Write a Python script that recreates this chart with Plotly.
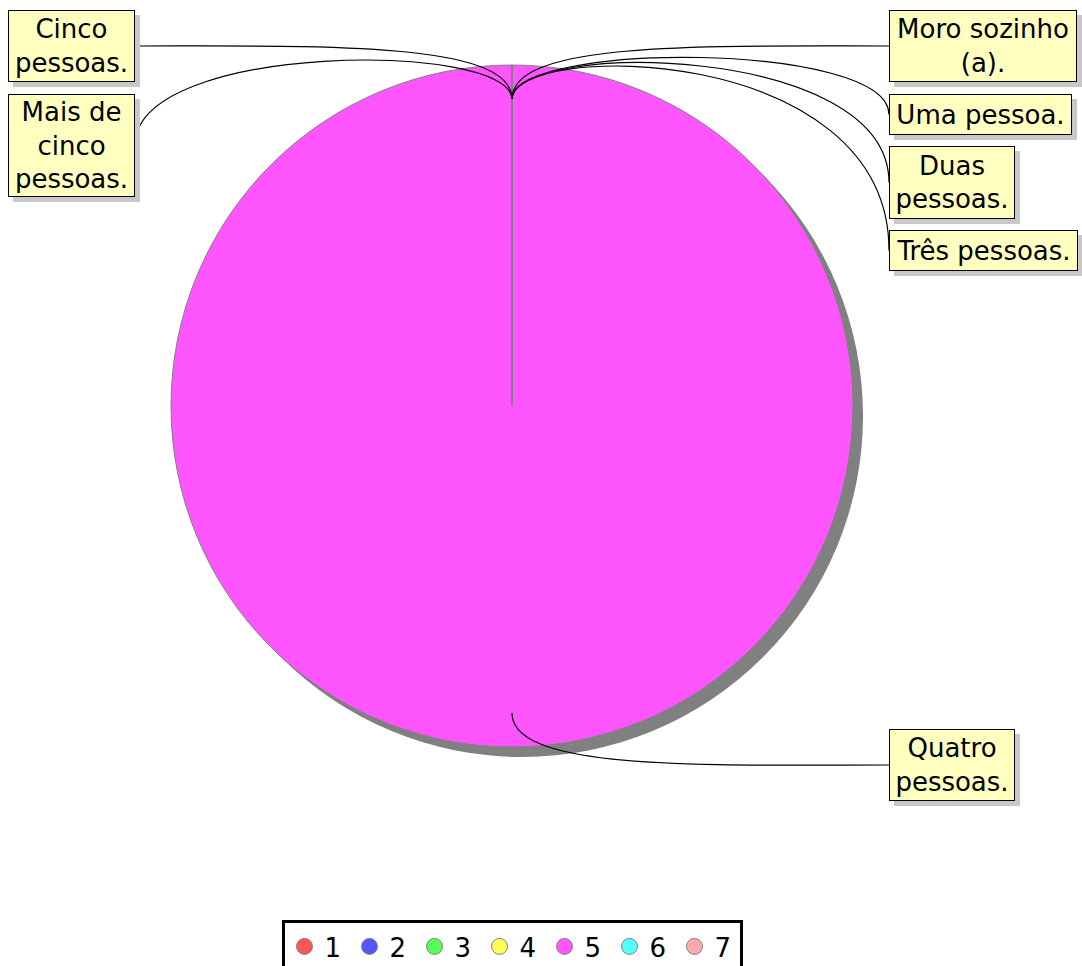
import math
import plotly.graph_objects as go

# ---------------- data ----------------
categorias = ["Moro sozinho (a).", "Uma pessoa.", "Duas pessoas.", "Três pessoas.",
              "Quatro pessoas.", "Cinco pessoas.", "Mais de cinco pessoas."]
rotulos = ["Moro sozinho<br>(a).", "Uma pessoa.", "Duas<br>pessoas.", "Três pessoas.",
           "Quatro<br>pessoas.", "Cinco<br>pessoas.", "Mais de<br>cinco<br>pessoas."]
legenda = ["1", "2", "3", "4", "5", "6", "7"]
valores = [0, 0, 0, 0, 1, 0, 0]
cores = ["#ff5555", "#5555ff", "#55ff55", "#ffff55", "#ff55ff", "#55ffff", "#ffaaaa"]

# ---------------- layout constants (pixels) ----------------
W, H = 1082, 966
CX, CY, R = 512, 406, 341
SHADOW = 10
BOX_SHADOW = 5
PAD, BW = 3, 1
FONT = "DejaVu Sans"
# label boxes: (left, top, width, height, side)
caixas = [(889, 10, 188, 72, "r"), (889, 94, 183, 41, "r"), (889, 146, 126, 73, "r"),
          (889, 230, 189, 41, "r"), (889, 729, 126, 72, "r"), (8, 10, 127, 72, "l"),
          (8, 94, 127, 103, "l")]


def dom_x(cx, r):
    return [(cx - r) / W, (cx + r) / W]


def dom_y(cy, r):
    return [1 - (cy + r) / H, 1 - (cy - r) / H]


fig = go.Figure()

# shadow pie
fig.add_trace(go.Pie(values=valores, labels=categorias, sort=False, direction="clockwise",
                     rotation=0, marker=dict(colors=["#808080"] * len(valores)),
                     textinfo="none", hoverinfo="skip", showlegend=False,
                     domain=dict(x=dom_x(CX + SHADOW, R), y=dom_y(CY + SHADOW, R))))
# main pie
fig.add_trace(go.Pie(values=valores, labels=categorias, sort=False, direction="clockwise",
                     rotation=0, marker=dict(colors=cores, line=dict(color="#808080", width=1)),
                     textinfo="none", showlegend=False,
                     domain=dict(x=dom_x(CX, R), y=dom_y(CY, R))))

# legend entries (circles)
for nome, c in zip(legenda, cores):
    fig.add_trace(go.Scatter(x=[None], y=[None], mode="markers", name=nome,
                             marker=dict(size=22, color=c, line=dict(color="#808080", width=1))))

shapes = []
total = sum(valores)
cum = 0.0
ang_start = []
for v in valores:
    ang_start.append(2 * math.pi * cum / total)
    cum += v

# radial boundary line of the slices (from center to start angle)
for i, v in enumerate(valores):
    if v > 0:
        a = ang_start[i]
        shapes.append(dict(type="line", xref="x", yref="y", x0=CX, y0=CY,
                           x1=CX + R * math.sin(a), y1=CY - R * math.cos(a),
                           line=dict(color="#808080", width=1), layer="above"))

annotations = []
for i, (v, txt, (bx, by, bw, bh, side)) in enumerate(zip(valores, rotulos, caixas)):
    mid = 2 * math.pi * (sum(valores[:i]) + v / 2) / total
    ax0 = CX + 0.9 * R * math.sin(mid)
    ay0 = CY - 0.9 * R * math.cos(mid)
    c1x = CX + 1.07 * R * math.sin(mid)
    c1y = CY - 1.07 * R * math.cos(mid)
    ex = bx if side == "r" else bx + bw
    ey = by + bh / 2
    if abs(ey - c1y) < 30:
        c2x, c2y = (ex + c1x) / 2, ey
    else:
        c2x, c2y = ex, c1y
    shapes.append(dict(type="path", xref="x", yref="y",
                       path=f"M {ax0:.1f},{ay0:.1f} C {c1x:.1f},{c1y:.1f} {c2x:.1f},{c2y:.1f} {ex:.1f},{ey:.1f}",
                       line=dict(color="black", width=1.2), layer="above"))
    # drop shadow of the label box
    shapes.append(dict(type="rect", xref="x", yref="y",
                       x0=bx + BOX_SHADOW, y0=by + BOX_SHADOW,
                       x1=bx + bw + BOX_SHADOW, y1=by + bh + BOX_SHADOW,
                       fillcolor="#c8c8c8", line=dict(width=0), layer="above"))
    annotations.append(dict(text=txt, xref="paper", yref="paper", showarrow=False,
                            x=bx / W, y=1 - by / H, xanchor="left", yanchor="top",
                            width=bw - 2 * PAD - 2 * BW, height=bh - 2 * PAD - 2 * BW,
                            align="center", valign="middle",
                            font=dict(family=FONT, size=26, color="black"),
                            bgcolor="#ffffc0", bordercolor="black", borderwidth=BW, borderpad=PAD))

fig.update_layout(
    width=W, height=H, margin=dict(l=0, r=0, t=0, b=0, pad=0, autoexpand=False),
    paper_bgcolor="white", plot_bgcolor="rgba(0,0,0,0)",
    xaxis=dict(range=[0, W], visible=False, fixedrange=True),
    yaxis=dict(range=[H, 0], visible=False, fixedrange=True),
    shapes=shapes, annotations=annotations,
    showlegend=True,
    legend=dict(orientation="h", x=CX / W, xanchor="center", y=1 - 920 / H, yanchor="top",
                font=dict(family=FONT, size=26, color="black"), bgcolor="white",
                bordercolor="black", borderwidth=3, entrywidth=20, entrywidthmode="pixels",
                itemclick=False, itemdoubleclick=False),
    font=dict(family=FONT),
)

fig.write_html("out.html", config={"displayModeBar": False},
               post_script="document.body.style.margin='0';")
